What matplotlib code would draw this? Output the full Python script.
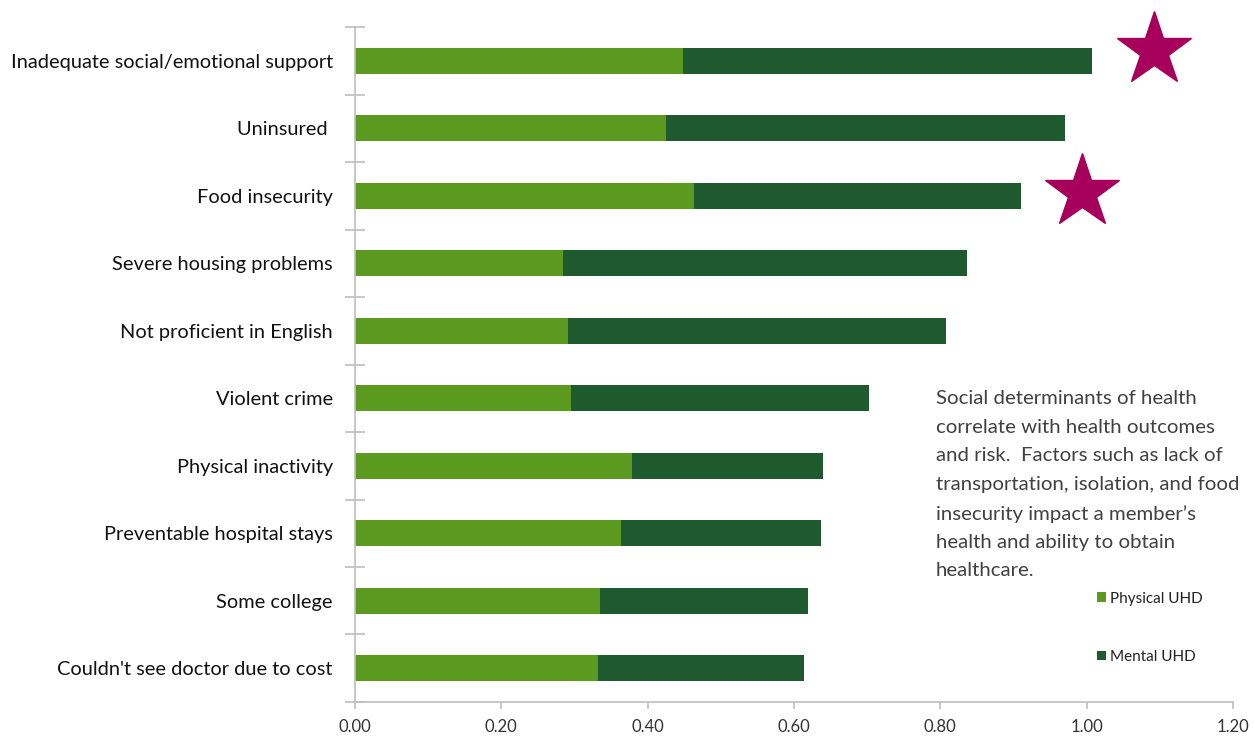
import numpy as np
import matplotlib
matplotlib.use("Agg")
import matplotlib.pyplot as plt

# data
categories = ["Inadequate social/emotional support", "Uninsured ", "Food insecurity",
              "Severe housing problems", "Not proficient in English", "Violent crime",
              "Physical inactivity", "Preventable hospital stays", "Some college",
              "Couldn't see doctor due to cost"]
physical = [0.448, 0.425, 0.463, 0.284, 0.291, 0.295, 0.379, 0.364, 0.335, 0.332]
total = [1.007, 0.970, 0.910, 0.836, 0.808, 0.702, 0.640, 0.637, 0.619, 0.614]
mental = [t - p for t, p in zip(total, physical)]
x_ticks = [0.0, 0.2, 0.4, 0.6, 0.8, 1.0, 1.2]

# stars next to the first and third rows
star_x = [1.092, 0.993]
star_y = [-0.16, 1.94]

plt.rcParams['font.family'] = ['Lato', 'DejaVu Sans']

light = "#5b9a1f"
dark = "#1f5a2e"
grid_c = "#bfbfbf"
text_c = "#333333"

fig = plt.figure(figsize=(12.55, 7.36), dpi=100)
ax = fig.add_axes([0.2829, 0.0462, 0.6996, 0.9171])

y = np.arange(len(categories))
ax.barh(y, physical, height=0.39, color=light, label="Physical UHD")
ax.barh(y, mental, left=physical, height=0.39, color=dark, label="Mental UHD")

ax.plot(star_x, star_y, ls="none", marker="*", ms=56, color="#a6005c", clip_on=False)

ax.set_xlim(0, 1.2)
ax.set_ylim(len(categories) - 0.5, -0.5)
ax.set_xticks(x_ticks)
ax.set_xticklabels([f"{v:.2f}" for v in x_ticks], fontsize=12, color=text_c)
ax.set_yticks(y)
ax.set_yticklabels(categories, fontsize=14.4, color="#111111")
ax.set_yticks(np.arange(-0.5, len(categories)), minor=True)
ax.tick_params(axis="y", which="major", length=0, pad=16)
ax.tick_params(axis="y", which="minor", length=14, direction="inout", color=grid_c, width=1.2)
ax.tick_params(axis="x", length=5, color=grid_c, width=1.2, pad=7)

for s in ["top", "right"]:
    ax.spines[s].set_visible(False)
for s in ["left", "bottom"]:
    ax.spines[s].set_color(grid_c)
    ax.spines[s].set_linewidth(1.2)

fig.text(0.7458, 0.470,
         "Social determinants of health\ncorrelate with health outcomes\n"
         "and risk.  Factors such as lack of\ntransportation, isolation, and food\n"
         "insecurity impact a member\u2019s\nhealth and ability to obtain\nhealthcare.",
         fontsize=14.7, color="#404040", va="top", ha="left", linespacing=1.82)

leg = ax.legend(loc="upper left", bbox_to_anchor=(0.829, 0.184), frameon=False,
                fontsize=11, handlelength=0.6, handleheight=0.6, handletextpad=0.3,
                labelspacing=2.9)
for t in leg.get_texts():
    t.set_color("#222222")

fig.savefig("out.png", dpi=100, facecolor="white")
